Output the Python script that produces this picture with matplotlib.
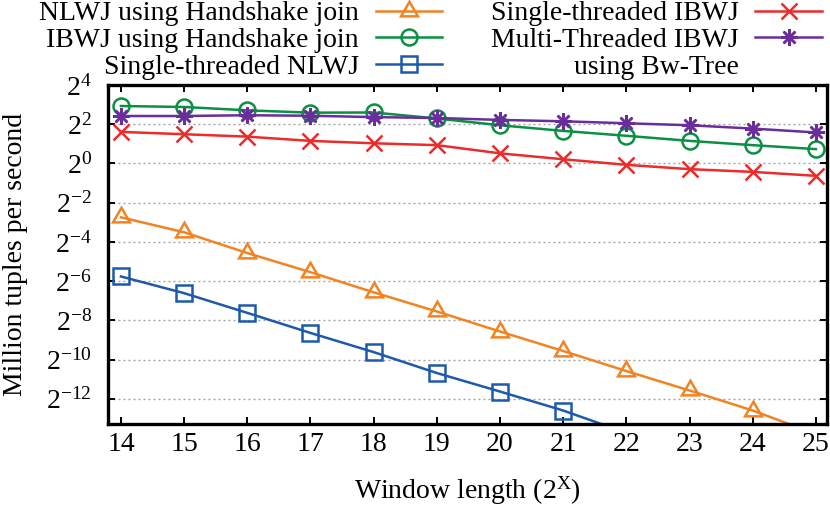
import numpy as np
import matplotlib
matplotlib.use('Agg')
import matplotlib.pyplot as plt
from matplotlib.ticker import FixedLocator, FuncFormatter, NullLocator

plt.rcParams['font.family'] = ['Liberation Serif', 'DejaVu Serif']
plt.rcParams['mathtext.fontset'] = 'custom'
plt.rcParams['mathtext.rm'] = 'Liberation Serif'
plt.rcParams['mathtext.it'] = 'Liberation Serif:italic'
plt.rcParams['font.size'] = 20

# window length exponents (2^x)
win = [14, 15, 16, 17, 18, 19, 20, 21, 22, 23, 24, 25]

# million tuples per second
nlwj_hs = [0.149, 0.0878, 0.0421, 0.0214, 0.0105, 0.00534, 0.00263,
           0.00132, 0.000649, 0.000327, 0.000161, 0.0000700]
ibwj_hs = [7.62, 7.36, 6.54, 6.02, 6.06, 4.90, 3.86, 3.16, 2.66, 2.22, 1.91, 1.66]
st_nlwj = [0.0184, 0.0102, 0.00508, 0.00250, 0.00127, 0.000606,
           0.000315, 0.000161, 0.0000730]
st_ibwj = [3.05, 2.81, 2.58, 2.22, 2.04, 1.91, 1.43, 1.16, 0.953, 0.818, 0.742, 0.646]
mt_ibwj = [5.35, 5.35, 5.50, 5.40, 5.15, 4.99, 4.66, 4.44, 4.14, 3.86, 3.43, 2.99]

c_orange = '#f28322'
c_green = '#0a8f43'
c_blue = '#1d5aac'
c_red = '#ec2b2b'
c_purple = '#6a2d9c'

fig = plt.figure(figsize=(8.3, 5.07), dpi=100)
ax = fig.add_axes([0.1305, 0.1637, 0.8655, 0.6686])

lw = 1.8
mw = 1.8
l1, = ax.plot(win, nlwj_hs, color=c_orange, lw=lw, marker=(3, 0, 0), ms=14,
              mfc='none', mew=mw, markevery=list(range(len(win) - 1)),
              label='NLWJ using Handshake join')
l2, = ax.plot(win, ibwj_hs, color=c_green, lw=lw, marker='o', ms=11.5,
              mfc='none', mew=mw, label='IBWJ using Handshake join')
l3, = ax.plot(win[:len(st_nlwj)], st_nlwj, color=c_blue, lw=lw, marker='s', ms=11.5,
              mfc='none', mew=mw, markevery=list(range(len(st_nlwj) - 1)),
              label='Single-threaded NLWJ')
l4, = ax.plot(win, st_ibwj, color=c_red, lw=lw, marker='x', ms=11.5,
              mew=mw, label='Single-threaded IBWJ')
l5, = ax.plot(win, mt_ibwj, color=c_purple, lw=lw, marker=(8, 2, 0), ms=12,
              mew=mw, label='Multi-Threaded IBWJ')
dummy = plt.Line2D([], [], linestyle='none', marker='none', color='none')

ax.set_yscale('log', base=2)
ax.set_xlim(13.8, 25.17)
ax.set_ylim(1e-4, 16)
ax.xaxis.set_major_locator(FixedLocator(win))
ax.yaxis.set_major_locator(FixedLocator([2.0 ** k for k in range(-12, 5, 2)]))
ax.yaxis.set_minor_locator(NullLocator())
ax.yaxis.set_major_formatter(FuncFormatter(
    lambda v, p: r'$\mathregular{2^{%d}}$' % int(round(np.log2(v)))))

ax.grid(axis='y', color='#a0a0a0', lw=1.0, linestyle=(0, (1.4, 2.2)))
ax.set_axisbelow(True)

for s in ax.spines.values():
    s.set_linewidth(2.4)
ax.tick_params(direction='in', length=5, width=1.4, top=True, right=True)
ax.tick_params(axis='x', pad=6)
ax.tick_params(axis='y', pad=12)

ax.set_xlabel(r'Window length (2$^{\mathregular{X}}$)')
ax.xaxis.set_label_coords(0.5, -0.15)
ax.set_ylabel('Million tuples per second')
ax.yaxis.set_label_coords(-0.112, 0.5)

ax.legend(handles=[l1, l2, l3, l4, l5, dummy],
          labels=['NLWJ using Handshake join', 'IBWJ using Handshake join',
                  'Single-threaded NLWJ', 'Single-threaded IBWJ',
                  'Multi-Threaded IBWJ', 'using Bw-Tree'],
          ncol=2, markerfirst=False, frameon=False, loc='upper right',
          bbox_to_anchor=(822 / 830, 0.998), bbox_transform=fig.transFigure,
          borderpad=0, borderaxespad=0, handlelength=2.4, handletextpad=0.6,
          columnspacing=1.75, labelspacing=0.04, fontsize=20)

fig.savefig('out.png', dpi=100)
